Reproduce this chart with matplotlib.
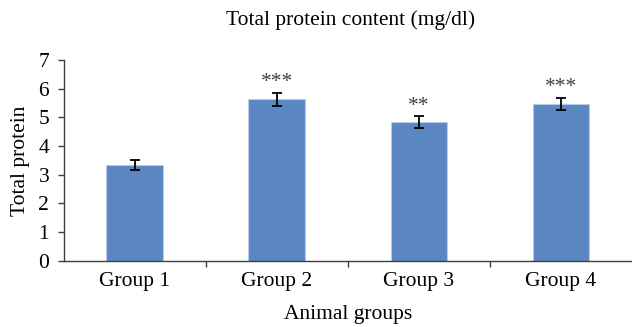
import matplotlib
matplotlib.use("Agg")
import matplotlib.pyplot as plt
import numpy as np

groups = ["Group 1", "Group 2", "Group 3", "Group 4"]
values = [3.34, 5.63, 4.83, 5.46]
errors = [0.19, 0.22, 0.20, 0.21]
stars = ["", "***", "**", "***"]

plt.rcParams['font.family'] = ['Liberation Serif', 'DejaVu Serif']
FS = 15.5

fig = plt.figure(figsize=(6.32, 3.27), dpi=100)
ax = fig.add_axes([0.101, 0.202, 0.899, 0.615])
x = np.arange(len(groups))
ax.bar(x, values, width=0.4, color="#5a87c2", edgecolor="#b8cce6", linewidth=0.8,
       yerr=errors, error_kw=dict(ecolor="black", elinewidth=1.3, capsize=3.6, capthick=1.3))
for xi, v, e, s in zip(x, values, errors, stars):
    if s:
        ax.text(xi, v + e + 0.02, s, ha="center", va="bottom", fontsize=FS, color="#404040")

ax.set_xlim(-0.5, 3.5)
ax.set_ylim(0, 7)
ax.set_yticks(range(0, 8))
ax.set_xticks(x)
ax.set_xticklabels(groups)
ax.set_xticks([0.5, 1.5, 2.5], minor=True)
ax.tick_params(axis='x', which='major', length=0, pad=8, labelsize=FS)
ax.tick_params(axis='x', which='minor', length=4.5, width=1, direction='out', color="#404040")
ax.tick_params(axis='y', length=4.5, width=1, labelsize=FS, color="#404040", pad=6)
for sp in ["top", "right"]:
    ax.spines[sp].set_visible(False)
for sp in ["left", "bottom"]:
    ax.spines[sp].set_color("#404040")
    ax.spines[sp].set_linewidth(1)
fig.text(0.555, 1 - 20 / 327, "Total protein content (mg/dl)", fontsize=FS, ha="center", va="center")
ax.set_xlabel("Animal groups", fontsize=FS, labelpad=10)
ax.set_ylabel("Total protein", fontsize=FS, labelpad=6)

fig.savefig("out.png", dpi=100)
